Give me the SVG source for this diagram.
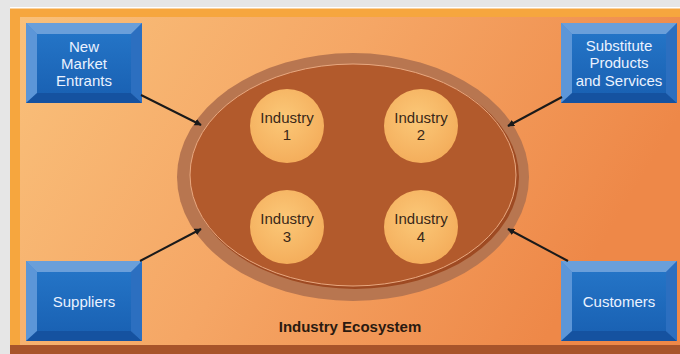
<svg xmlns="http://www.w3.org/2000/svg" width="680" height="354" viewBox="0 0 680 354">
<defs>
<linearGradient id="panel" x1="0" y1="0" x2="1" y2="0.3">
<stop offset="0" stop-color="#F9C07A"/>
<stop offset="0.5" stop-color="#F5A665"/>
<stop offset="1" stop-color="#EE8848"/>
</linearGradient>
<linearGradient id="face" x1="0" y1="0" x2="0" y2="1">
<stop offset="0" stop-color="#2474C6"/>
<stop offset="1" stop-color="#1A62B4"/>
</linearGradient>
<radialGradient id="circ" cx="0.45" cy="0.4" r="0.6">
<stop offset="0" stop-color="#FBC878"/>
<stop offset="1" stop-color="#F4AE5C"/>
</radialGradient>
<marker id="ah" viewBox="0 0 10 10" refX="9" refY="5" markerWidth="7" markerHeight="7" orient="auto" markerUnits="userSpaceOnUse">
<path d="M0,0 L10,5 L0,10 z" fill="#1a1a1a"/>
</marker>
<g id="bevel">
<rect x="0" y="0" width="116" height="80" fill="#4A8BD4"/>
<polygon points="0,0 116,0 105,11 11,11" fill="#6A9FDA"/>
<polygon points="0,0 11,11 11,70 0,80" fill="#5C96D8"/>
<polygon points="116,0 116,80 105,70 105,11" fill="#2C6FC0"/>
<polygon points="0,80 116,80 105,70 11,70" fill="#1552A0"/>
<rect x="11" y="11" width="94" height="59" fill="url(#face)"/>
</g>
</defs>
<style>
.bt{font-family:"Liberation Sans",Arial,sans-serif;font-size:15px;fill:#EAF2FF;text-anchor:middle}
.it{font-family:"Liberation Sans",Arial,sans-serif;font-size:15px;fill:#3A2818;text-anchor:middle}
.lb{font-family:"Liberation Sans",Arial,sans-serif;font-size:15px;font-weight:bold;fill:#2A1A10;text-anchor:middle}
.con{stroke:#1a1a1a;stroke-width:2;fill:none;marker-end:url(#ah)}
</style>
<rect x="0" y="0" width="680" height="354" fill="#E6E6E6"/>
<rect x="10" y="7" width="670" height="347" fill="#F6A63E"/>
<rect x="10" y="7" width="670" height="1.5" fill="#FFFFFF"/>
<rect x="20" y="17" width="660" height="328" fill="url(#panel)"/>
<rect x="10" y="345" width="670" height="9" fill="#A8542A"/>

<g id="ecosystem">
<ellipse cx="353" cy="177" rx="176" ry="124" fill="#B87650"/>
<ellipse cx="355" cy="177" rx="164" ry="112" fill="#9E4A22"/>
<ellipse cx="353" cy="175" rx="163" ry="111" fill="#B25A2C" stroke="#E8A880" stroke-width="1"/>
<text class="lb" x="350" y="332">Industry Ecosystem</text>
</g>
<g id="industry1">
<circle cx="287" cy="126" r="37" fill="url(#circ)"/>
<text class="it" x="287" y="123">Industry</text>
<text class="it" x="287" y="140">1</text>
</g>
<g id="industry2">
<circle cx="421" cy="126" r="37" fill="url(#circ)"/>
<text class="it" x="421" y="123">Industry</text>
<text class="it" x="421" y="140">2</text>
</g>
<g id="industry3">
<circle cx="287" cy="227" r="37" fill="url(#circ)"/>
<text class="it" x="287" y="224">Industry</text>
<text class="it" x="287" y="242">3</text>
</g>
<g id="industry4">
<circle cx="421" cy="227" r="37" fill="url(#circ)"/>
<text class="it" x="421" y="224">Industry</text>
<text class="it" x="421" y="242">4</text>
</g>

<g id="new-entrants">
<use href="#bevel" x="26" y="23"/>
<text class="bt" x="84" y="52">New</text>
<text class="bt" x="84" y="69">Market</text>
<text class="bt" x="84" y="86">Entrants</text>
</g>
<g id="substitutes">
<use href="#bevel" x="561" y="23"/>
<text class="bt" x="619" y="51">Substitute</text>
<text class="bt" x="619" y="68">Products</text>
<text class="bt" x="619" y="86">and Services</text>
</g>
<g id="suppliers">
<use href="#bevel" x="26" y="261"/>
<text class="bt" x="84" y="307">Suppliers</text>
</g>
<g id="customers">
<use href="#bevel" x="561" y="261"/>
<text class="bt" x="619" y="307">Customers</text>
</g>

<g id="connectors">
<line class="con" x1="141" y1="95" x2="201" y2="125"/>
<line class="con" x1="562" y1="97" x2="508" y2="126"/>
<line class="con" x1="140" y1="261" x2="201" y2="229"/>
<line class="con" x1="568" y1="261" x2="508" y2="229"/>
</g>
</svg>
